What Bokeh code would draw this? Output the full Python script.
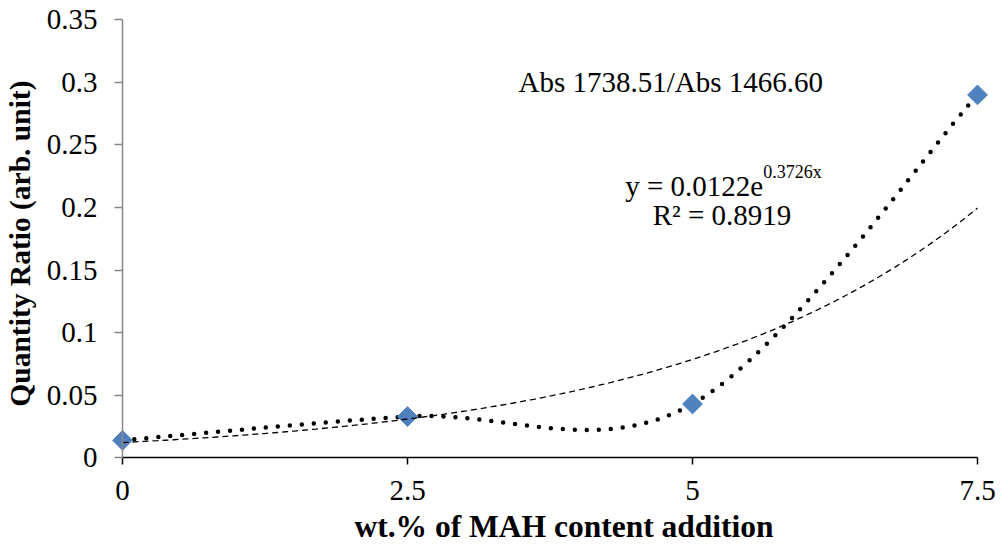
import numpy as np
from bokeh.plotting import figure
from bokeh.models import Range1d, FixedTicker, Label, ColumnDataSource
from bokeh.embed import file_html
from bokeh.resources import INLINE

# Measured absorbance ratio versus MAH loading
mah_wt = [0.0, 2.5, 5.0, 7.5]
abs_ratio = [0.014, 0.033, 0.043, 0.290]

# Exponential trendline parameters
fit_a = 0.0122
fit_b = 0.3726
fit_r2 = 0.8919

x_ticks = [0, 2.5, 5, 7.5]
x_tick_labels = ["0", "2.5", "5", "7.5"]
y_ticks = [0, 0.05, 0.1, 0.15, 0.2, 0.25, 0.3, 0.35]
y_tick_labels = ["0", "0.05", "0.1", "0.15", "0.2", "0.25", "0.3", "0.35"]

FONT = "Liberation Serif"

# The frame fills the whole canvas; both axes are pinned at the origin.
p = figure(width=1000, height=550,
           x_range=Range1d(-1.07018, 7.70175), y_range=Range1d(-0.07408, 0.36543),
           min_border_left=0, min_border_right=0,
           min_border_top=0, min_border_bottom=0,
           output_backend="svg", toolbar_location=None)
p.outline_line_color = None
p.xgrid.visible = False
p.ygrid.visible = False
p.background_fill_color = "white"

# x axis (black)
xa = p.xaxis[0]
xa.fixed_location = 0
xa.ticker = FixedTicker(ticks=x_ticks)
xa.major_label_overrides = dict(zip(x_ticks, x_tick_labels))
xa.bounds = (0, 7.5)
xa.minor_tick_line_color = None
xa.major_tick_in = 0
xa.major_tick_out = 7
xa.axis_line_color = "black"
xa.axis_line_width = 1.5
xa.major_tick_line_color = "black"
xa.major_tick_line_width = 1.5
xa.major_label_text_font = FONT
xa.major_label_text_font_size = "29px"
xa.major_label_text_color = "black"
xa.major_label_standoff = 16

# y axis (grey)
ya = p.yaxis[0]
ya.fixed_location = 0
ya.ticker = FixedTicker(ticks=y_ticks)
ya.major_label_overrides = dict(zip(y_ticks, y_tick_labels))
ya.bounds = (0, 0.35)
ya.minor_tick_line_color = None
ya.major_tick_in = 0
ya.major_tick_out = 8
ya.axis_line_color = "#888888"
ya.axis_line_width = 1.5
ya.major_tick_line_color = "#888888"
ya.major_tick_line_width = 1.5
ya.major_label_text_font = FONT
ya.major_label_text_font_size = "29px"
ya.major_label_text_color = "black"
ya.major_label_standoff = 17

# Smoothed connecting curve: cubic Bezier segments (Catmull-Rom style control points)
xs = np.array(mah_wt)
ys = np.array(abs_ratio)
n = len(xs)
i0 = np.arange(n - 1)
i1 = i0 + 1
prev_i = np.clip(i0 - 1, 0, n - 1)
next_i = np.clip(i0 + 2, 0, n - 1)
seg = ColumnDataSource(dict(
    x0=xs[i0], y0=ys[i0], x1=xs[i1], y1=ys[i1],
    cx0=xs[i0] + (xs[i1] - xs[prev_i]) / 6.0,
    cy0=ys[i0] + (ys[i1] - ys[prev_i]) / 6.0,
    cx1=xs[i1] - (xs[next_i] - xs[i0]) / 6.0,
    cy1=ys[i1] - (ys[next_i] - ys[i0]) / 6.0,
))
p.bezier(x0="x0", y0="y0", x1="x1", y1="y1", cx0="cx0", cy0="cy0",
         cx1="cx1", cy1="cy1", source=seg, line_color="black",
         line_width=4.5, line_dash="0 12", line_cap="round")

# Data markers
p.scatter(mah_wt, abs_ratio, marker="square", size=14, angle=np.pi / 4,
          fill_color="#4F81BD", line_color="#4F81BD")

# Exponential trendline
xt = np.linspace(mah_wt[0], mah_wt[-1], 200)
p.line(xt, fit_a * np.exp(fit_b * xt), line_color="black",
       line_width=1.3, line_dash="6 4")

# Axis titles
p.add_layout(Label(x=3.873, y=-0.0549, text="wt.% of MAH content addition",
                   text_font=FONT, text_font_size="31.5px", text_font_style="bold",
                   text_align="center", text_baseline="alphabetic", text_color="black"))
p.add_layout(Label(x=-0.903, y=0.1712, angle=np.pi / 2,
                   text="Quantity Ratio (arb. unit)",
                   text_font=FONT, text_font_size="29.5px", text_font_style="bold",
                   text_align="center", text_baseline="middle", text_color="black"))

# In-plot annotations
p.add_layout(Label(x=3.474, y=0.3007, text="Abs 1738.51/Abs 1466.60",
                   text_font=FONT, text_font_size="29px", text_baseline="alphabetic",
                   text_color="black"))
p.add_layout(Label(x=5.62, y=0.2168, text=f"y = {fit_a}e",
                   text_font=FONT, text_font_size="29px", text_align="right",
                   text_baseline="alphabetic", text_color="black"))
p.add_layout(Label(x=5.62, y=0.2280, text=f"{fit_b}x",
                   text_font=FONT, text_font_size="18px", text_align="left",
                   text_baseline="alphabetic", text_color="black"))
p.add_layout(Label(x=5.259, y=0.1944, text=f"R² = {fit_r2}",
                   text_font=FONT, text_font_size="29px", text_align="center",
                   text_baseline="alphabetic", text_color="black"))

open("out.html", "w").write(file_html(p, INLINE))
